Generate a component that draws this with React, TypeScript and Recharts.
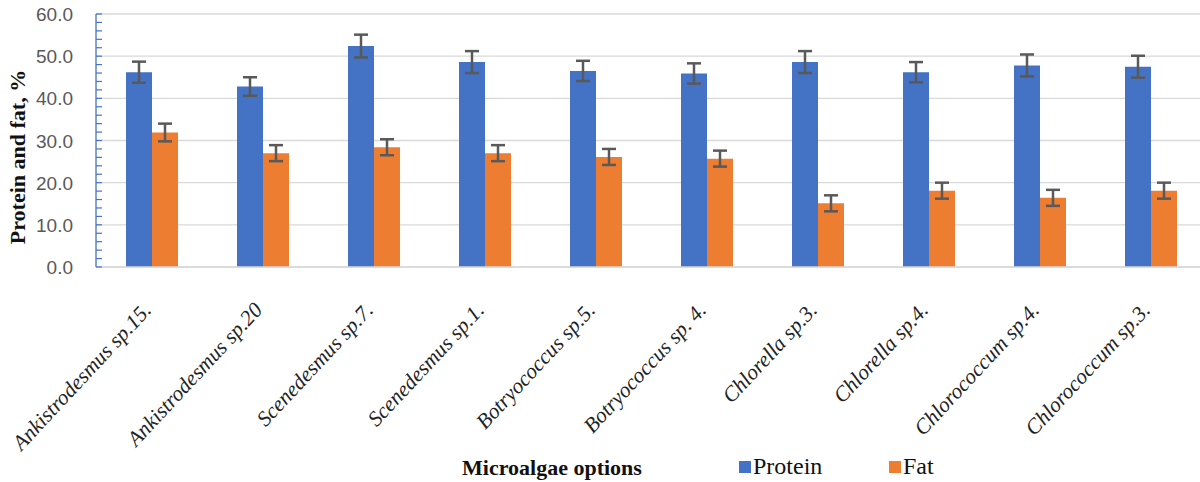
import React from "react";
import {
  BarChart,
  Bar,
  XAxis,
  YAxis,
  CartesianGrid,
  ErrorBar,
  Legend,
} from "recharts";

const categories = [
  "Ankistrodesmus sp.15.",
  "Ankistrodesmus sp.20",
  "Scenedesmus sp.7.",
  "Scenedesmus sp.1.",
  "Botryococcus sp.5.",
  "Botryococcus sp. 4.",
  "Chlorella sp.3.",
  "Chlorella sp.4.",
  "Chlorococcum sp.4.",
  "Chlorococcum sp.3.",
];

const protein = [46.2, 42.8, 52.4, 48.6, 46.5, 45.9, 48.6, 46.2, 47.8, 47.5];
const proteinErr = [2.5, 2.2, 2.7, 2.6, 2.4, 2.4, 2.6, 2.4, 2.6, 2.6];
const fat = [31.9, 27.0, 28.4, 27.0, 26.1, 25.7, 15.1, 18.1, 16.4, 18.1];
const fatErr = [2.1, 1.9, 1.9, 1.9, 1.9, 1.9, 1.9, 1.9, 1.9, 1.9];

const seriesNames = ["Protein", "Fat"];

const yMajorTicks = [0, 10, 20, 30, 40, 50, 60];
const yMinorTicks = [
  0, 2, 4, 6, 8, 10, 12, 14, 16, 18, 20, 22, 24, 26, 28, 30, 32, 34, 36, 38,
  40, 42, 44, 46, 48, 50, 52, 54, 56, 58, 60,
];

const data = categories.map((name, i) => ({
  name,
  protein: protein[i],
  proteinErr: proteinErr[i],
  fat: fat[i],
  fatErr: fatErr[i],
}));

const BLUE = "#4472C4";
const ORANGE = "#ED7D31";
const SERIF = "Liberation Serif";

function XTick(props: any) {
  const { x, y, payload } = props;
  return (
    <g transform={`translate(${x + 1},${y + 44})`}>
      <text
        transform="rotate(-47)"
        textAnchor="end"
        fontFamily={SERIF}
        fontStyle="italic"
        fontSize={21.5}
        fill="#222"
      >
        {payload.value}
      </text>
    </g>
  );
}

function YTick(props: any) {
  const { x, y, payload } = props;
  const major = yMajorTicks.includes(payload.value);
  return (
    <g>
      <line x1={x + 23} x2={x + 29} y1={y} y2={y} stroke={BLUE} strokeWidth={1.2} />
      {major && (
        <text
          x={x}
          y={y}
          dy={7}
          textAnchor="end"
          fontFamily="Liberation Sans"
          fontSize={19}
          fill="#595959"
        >
          {payload.value.toFixed(1)}
        </text>
      )}
    </g>
  );
}

function LegendContent(props: any) {
  const items = [...(props.payload || [])].sort(
    (a: any, b: any) => seriesNames.indexOf(a.value) - seriesNames.indexOf(b.value)
  );
  return (
    <svg width={220} height={30}>
      {items.map((it: any, i: number) => (
        <g key={it.value} transform={`translate(${i * 150},0)`}>
          <rect x={0} y={9} width={12} height={12} fill={it.color} />
          <text x={14} y={22} fontFamily={SERIF} fontSize={24} fill="#111">
            {it.value}
          </text>
        </g>
      ))}
    </svg>
  );
}

export default function App() {
  return (
    <div
      style={{
        position: "absolute",
        left: 0,
        top: 0,
        width: 1200,
        height: 482,
        overflow: "hidden",
        background: "#fff",
      }}
    >
      <BarChart
        width={1210}
        height={482}
        data={data}
        margin={{ top: 14, right: 4, left: 0, bottom: 0 }}
        barGap={0}
        barSize={26}
      >
        <CartesianGrid
          vertical={false}
          horizontalValues={yMajorTicks}
          stroke="#d9d9d9"
          strokeWidth={1.3}
        />
        <XAxis
          dataKey="name"
          height={185}
          interval={0}
          tickLine={false}
          tickSize={0}
          tickMargin={0}
          axisLine={{ stroke: "#d9d9d9", strokeWidth: 1.3 }}
          tick={<XTick />}
          label={{
            content: () => (
              <text
                x={552}
                y={475}
                textAnchor="middle"
                fontFamily={SERIF}
                fontWeight="bold"
                fontSize={22}
                fill="#111"
              >
                Microalgae options
              </text>
            ),
          }}
        />
        <YAxis
          width={96}
          domain={[0, 60]}
          ticks={yMinorTicks}
          interval={0}
          tickLine={false}
          tickSize={0}
          tickMargin={23}
          axisLine={{ stroke: BLUE, strokeWidth: 1.3 }}
          tick={<YTick />}
          label={{
            content: () => (
              <text
                transform="translate(25,157) rotate(-90)"
                textAnchor="middle"
                fontFamily={SERIF}
                fontWeight="bold"
                fontSize={22}
                fill="#111"
              >
                Protein and fat, %
              </text>
            ),
          }}
        />
        <Legend
          content={<LegendContent />}
          wrapperStyle={{ position: "absolute", left: 739, top: 452, width: 220, height: 30 }}
        />
        <Bar dataKey="protein" name="Protein" fill={BLUE} isAnimationActive={false}>
          <ErrorBar dataKey="proteinErr" width={7} stroke="#595959" strokeWidth={2.5} />
        </Bar>
        <Bar dataKey="fat" name="Fat" fill={ORANGE} isAnimationActive={false}>
          <ErrorBar dataKey="fatErr" width={7} stroke="#595959" strokeWidth={2.5} />
        </Bar>
      </BarChart>
    </div>
  );
}
